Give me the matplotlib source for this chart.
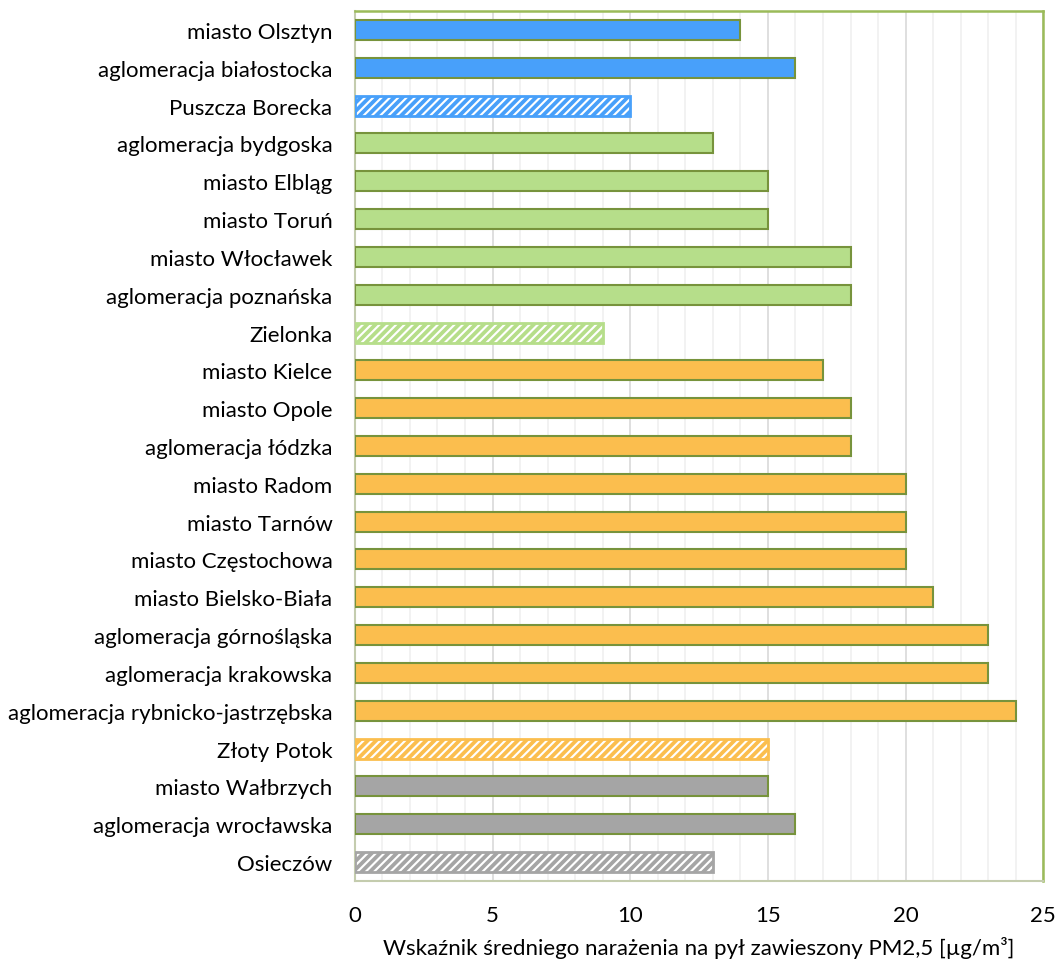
import numpy as np
import matplotlib.pyplot as plt
from matplotlib.ticker import MultipleLocator

plt.rcParams['font.family'] = ['Lato', 'DejaVu Sans']
plt.rcParams['hatch.linewidth'] = 2.7

# Stations / zones, top to bottom
names = [
    'miasto Olsztyn', 'aglomeracja białostocka', 'Puszcza Borecka',
    'aglomeracja bydgoska', 'miasto Elbląg', 'miasto Toruń', 'miasto Włocławek',
    'aglomeracja poznańska', 'Zielonka', 'miasto Kielce', 'miasto Opole',
    'aglomeracja łódzka', 'miasto Radom', 'miasto Tarnów', 'miasto Częstochowa',
    'miasto Bielsko-Biała', 'aglomeracja górnośląska', 'aglomeracja krakowska',
    'aglomeracja rybnicko-jastrzębska', 'Złoty Potok', 'miasto Wałbrzych',
    'aglomeracja wrocławska', 'Osieczów',
]
values = [14, 16, 10, 13, 15, 15, 18, 18, 9, 17, 18, 18, 20, 20, 20, 21, 23, 23, 24, 15, 15, 16, 13]
# region group of each row, and whether it is a background (hatched) station
groups = ['blue'] * 3 + ['green'] * 6 + ['orange'] * 11 + ['gray'] * 3
background = ['Puszcza Borecka', 'Zielonka', 'Złoty Potok', 'Osieczów']

palette = {'blue': '#48A0FA', 'green': '#B6DE8A', 'orange': '#FBBE4E', 'gray': '#A5A5A5'}
edge_solid = '#77933C'

fig = plt.figure(figsize=(10.56, 9.62), dpi=100)
ax = fig.add_axes([0.336, 0.0832, 0.652, 0.9043])

y = np.arange(len(names))
for yi, name, val, grp in zip(y, names, values, groups):
    c = palette[grp]
    if name in background:
        ax.barh(yi, val, height=0.53, facecolor='white', edgecolor=c,
                hatch='////', linewidth=2.0, zorder=3)
    else:
        ax.barh(yi, val, height=0.53, facecolor=c, edgecolor=edge_solid,
                linewidth=1.5, zorder=3)

ax.set_xlim(0, 25)
ax.set_ylim(len(names) - 0.5, -0.5)
ax.set_yticks(y)
ax.set_yticklabels(names, fontsize=16)
ax.xaxis.set_major_locator(MultipleLocator(5))
ax.xaxis.set_minor_locator(MultipleLocator(1))
ax.tick_params(axis='x', labelsize=16, length=0, which='both', pad=17)
ax.tick_params(axis='y', length=0, pad=16)

ax.grid(axis='x', which='major', color='#D9D9D9', linewidth=1.2, zorder=0)
ax.grid(axis='x', which='minor', color='#F0F0F0', linewidth=1.2, zorder=0)
ax.set_axisbelow(True)

for side in ['top', 'right']:
    ax.spines[side].set_color('#9BBB59')
    ax.spines[side].set_linewidth(1.8)
for side in ['left', 'bottom']:
    ax.spines[side].set_color('#C4CCAE')
    ax.spines[side].set_linewidth(1.5)

ax.set_xlabel('Wskaźnik średniego narażenia na pył zawieszony PM2,5 [µg/m³]',
              fontsize=16, labelpad=8)

fig.savefig('out.png', dpi=100)
